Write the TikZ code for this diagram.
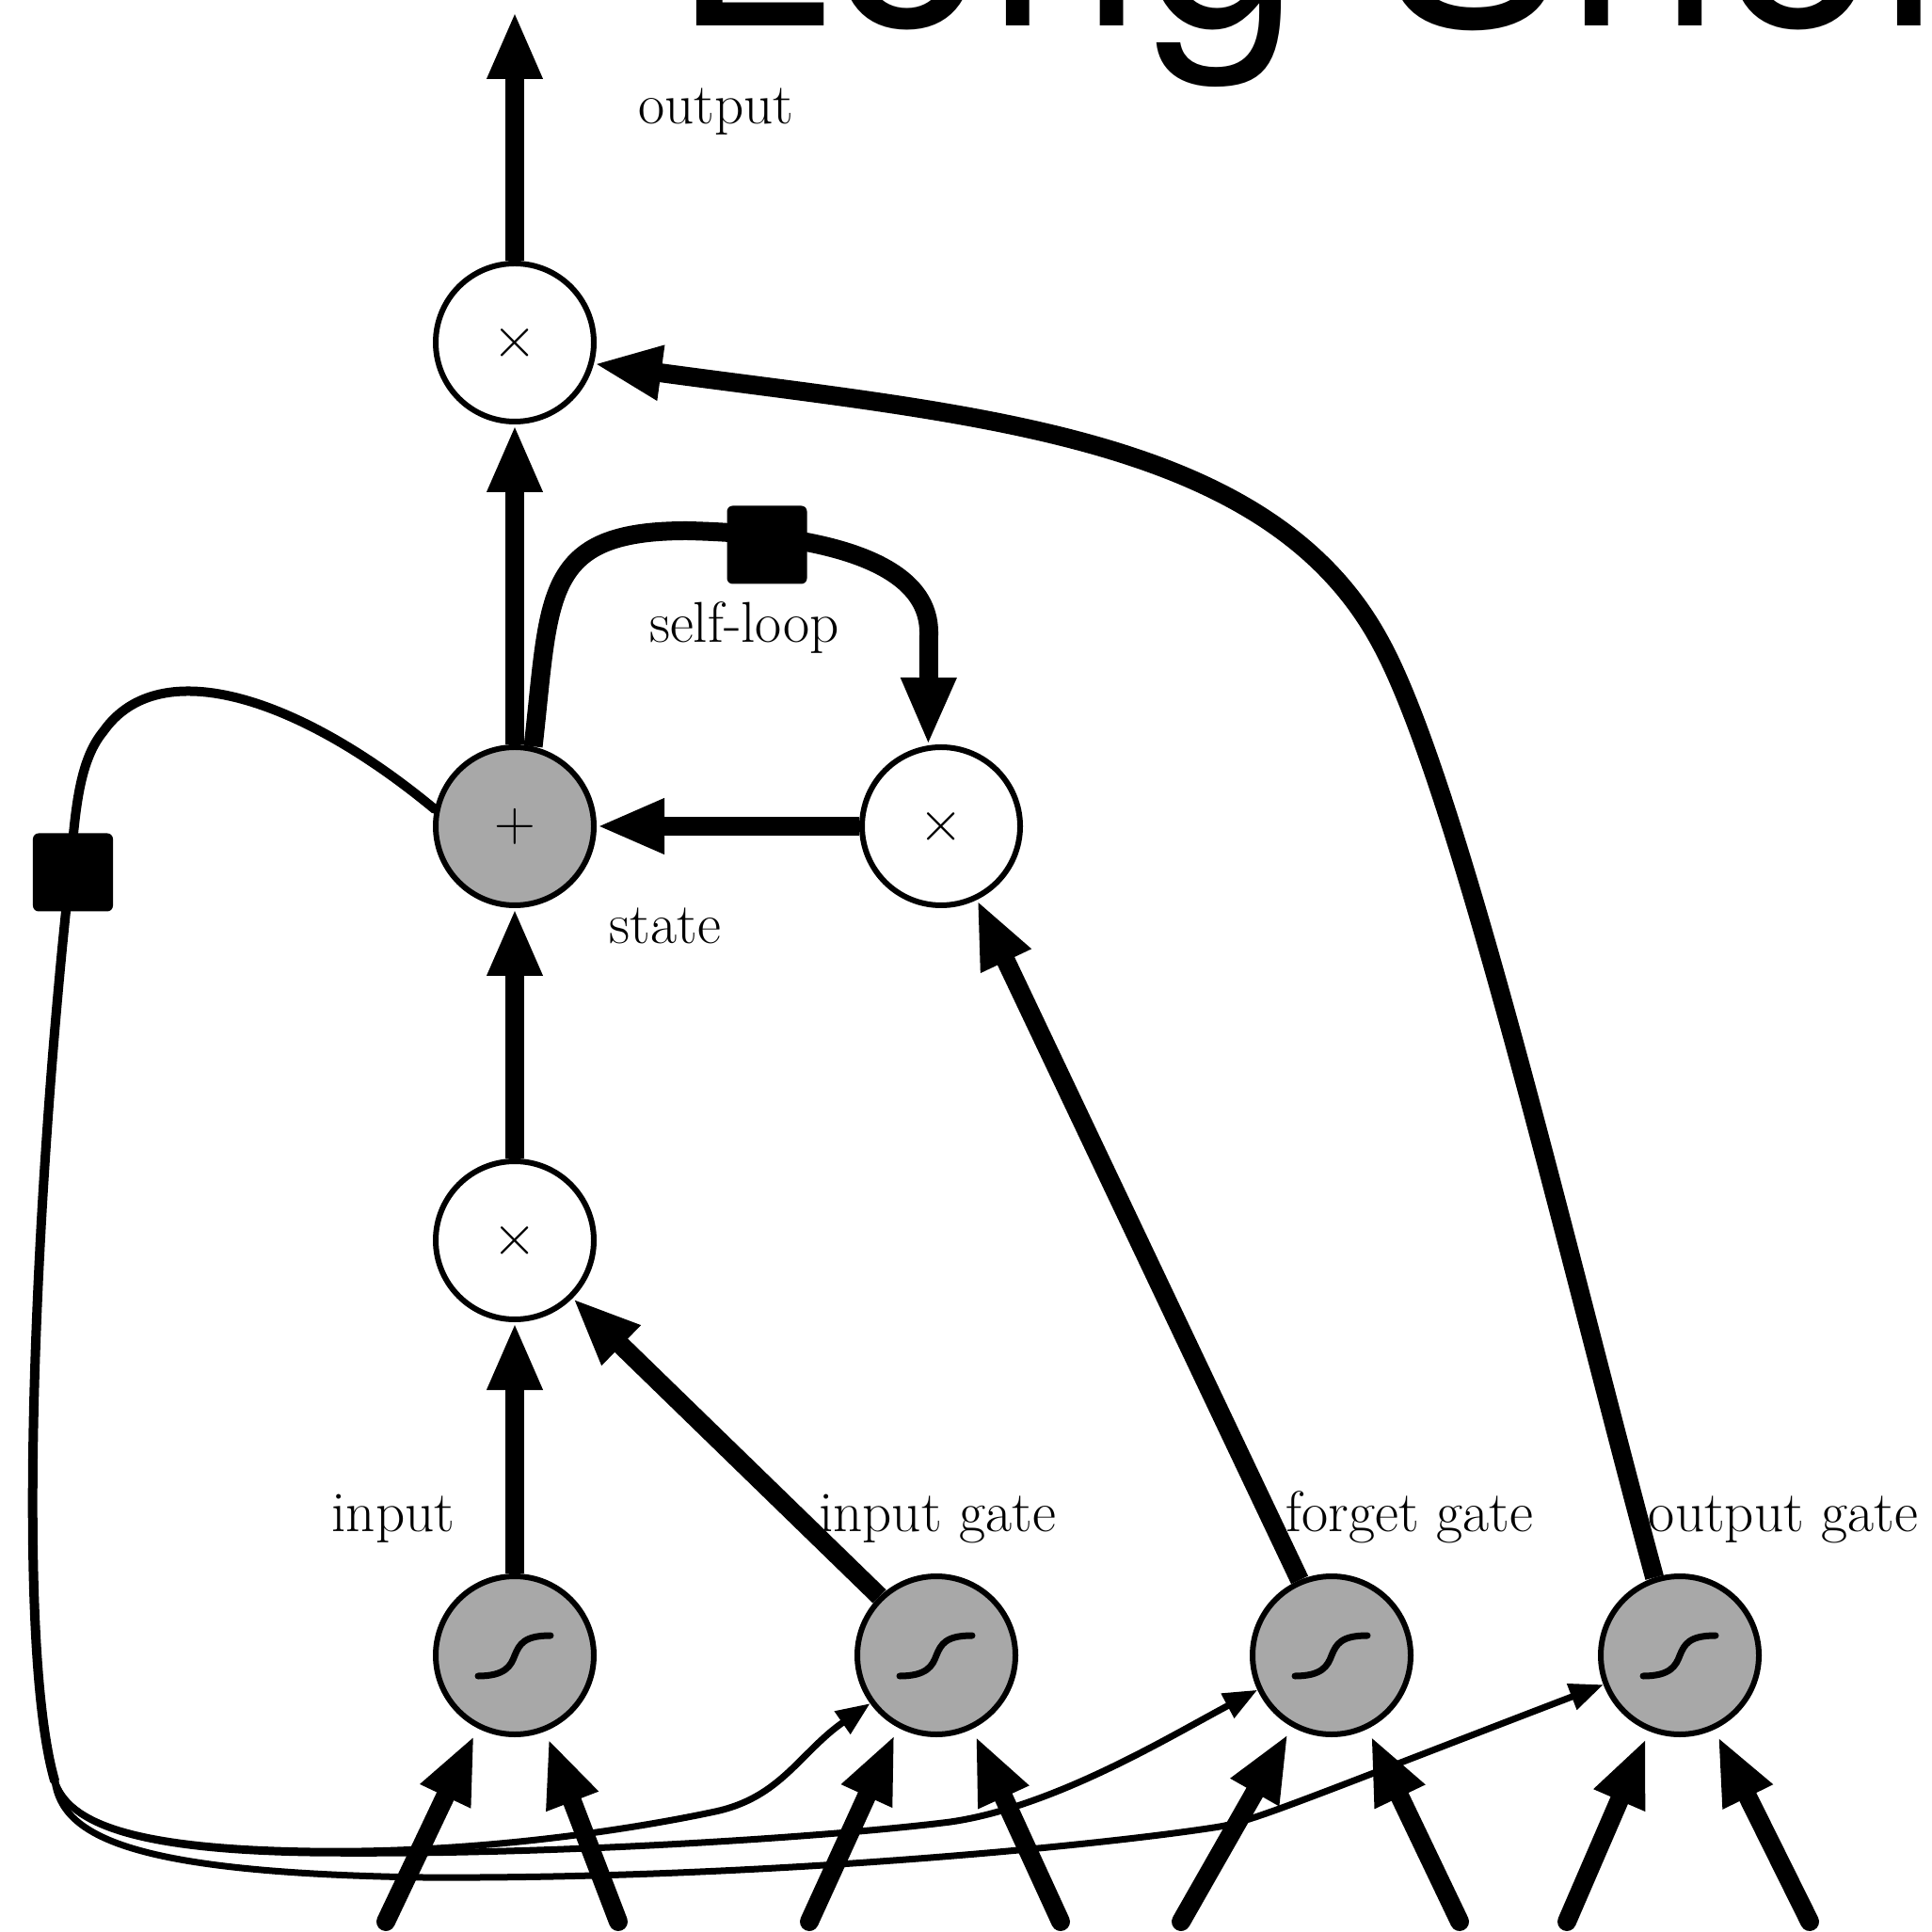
\documentclass[tikz,border=0pt]{standalone}
\usepackage{fontspec}
\usepackage{tikz}
\usetikzlibrary{arrows.meta}
\newfontfamily\titlefont{TeX Gyre Heros}
\definecolor{unitgray}{RGB}{168,168,168}
\tikzset{
  unit/.style={circle,draw,line width=0.6mm,fill=white,minimum size=16.8mm,inner sep=0pt,
    font=\fontsize{17.4}{20}\selectfont},
  sumunit/.style={unit,fill=unitgray},
  gateunit/.style={unit,fill=unitgray,path picture={
      \draw[line width=0.7mm,line cap=round,shift={(path picture bounding box.center)}]
        (-0.39,-0.22) .. controls (-0.1,-0.22) and (-0.04,-0.11) .. (0,0)
        .. controls (0.05,0.12) and (0.1,0.21) .. (0.38,0.21);}},
  delay/.style={fill=black,rounded corners=0.6mm,minimum width=8.5mm,minimum height=8.3mm,inner sep=0pt},
  lbl/.style={font=\fontsize{17.4}{20}\selectfont,anchor=base,inner sep=0pt},
  heavy/.style={line width=2mm,-{Triangle[length=7.2mm,width=5.4mm]}},
  light/.style={line width=0.7mm,line cap=round,-{Triangle[length=3.6mm,width=2.8mm]}},
}

\begin{document}
\begin{tikzpicture}
  \useasboundingbox (0,0) rectangle (20.53,20.52);
  \clip (0,0) rectangle (20.53,20.52);
  \node[anchor=base west,inner sep=0pt,font=\titlefont\fontsize{85}{90}\selectfont]
    (title) at (7.16,20.24) {Long Short-Term Memory};

  % units of the cell
  \node[unit] (outx) at (5.47,16.88) {$\times$};
  \node[sumunit] (state) at (5.47,11.74) {$+$};
  \node[unit] (loopx) at (10.00,11.74) {$\times$};
  \node[unit] (inx) at (5.47,7.34) {$\times$};
  \node[gateunit] (gin) at (5.47,2.93) {};
  \node[gateunit] (gig) at (9.95,2.93) {};
  \node[gateunit] (gfg) at (14.15,2.93) {};
  \node[gateunit] (gog) at (17.85,2.93) {};

  \node[lbl] (loutput) at (7.61,19.20) {output};
  \node[lbl] (lloop) at (7.91,13.69) {self-loop};
  \node[lbl] (lstate) at (7.07,10.49) {state};
  \node[lbl] (linput) at (4.18,4.25) {input};
  \node[lbl] (lig) at (9.96,4.25) {input gate};
  \node[lbl] (lfg) at (14.98,4.25) {forget gate};
  \node[lbl] (log) at (18.95,4.25) {output gate};

  % main flow
  \coordinate (top) at (5.47,20.40);
  \draw[heavy] (outx) -- (top);
  \draw[heavy] (state) -- (outx);
  \draw[heavy] (inx) -- (state);
  \draw[heavy] (gin) -- (inx);
  \draw[heavy] (loopx) -- (state);
  \draw[heavy] (gig.134) -- (inx.-45);
  \draw[heavy] (gfg.113) -- (loopx.-64);
  \draw[heavy] (gog.108) .. controls (16.7,7.0) and (15.5,12.2) .. (14.66,13.71)
    .. controls (13.46,15.91) and (10.31,16.11) .. (outx.-15);
  \draw[heavy] (state.77) .. controls (5.85,14.2) and (5.75,14.88) .. (7.3,14.88)
    .. controls (8.6,14.85) and (9.87,14.6) .. (9.87,13.8) -- (loopx.99);

  % state fed back to the gates
  \coordinate (lb) at (0.58,1.6);
  \draw[line width=1mm,line cap=round] (state.168) .. controls (3.2,13.1) and (1.7,13.6) .. (1.1,12.75)
    .. controls (0.85,12.45) and (0.8,11.95) .. (0.75,11.3)
    .. controls (0.38,8.0) and (0.15,3.1) .. (lb);
  \draw[light] (lb) .. controls (0.72,1.15) and (1.4,0.88) .. (3.3,0.85)
    .. controls (5.2,0.82) and (6.9,1.12) .. (7.6,1.27)
    .. controls (8.3,1.42) and (8.5,1.9) .. (gig.216);
  \draw[light] (lb) .. controls (0.72,1.15) and (1.4,0.86) .. (3.3,0.83)
    .. controls (6,0.8) and (9,1.02) .. (10.1,1.16)
    .. controls (11.2,1.32) and (12.4,2.05) .. (gfg.205);
  \draw[light] (lb) .. controls (0.66,1.0) and (1.4,0.62) .. (4.5,0.57)
    .. controls (8,0.55) and (11.6,0.9) .. (12.9,1.1)
    .. controls (13.3,1.16) and (13.6,1.3) .. (gog.201);

  % delays
  \node[delay] (dloop) at (8.15,14.73) {};
  \node[delay] (dback) at (0.775,11.25) {};

  % inputs from below
  \foreach \g/\a/\x [count=\i] in {gin/243/4.10, gin/292/6.57, gig/242/8.60, gig/296/11.27,
      gfg/241/12.55, gfg/296/15.51, gog/248/16.65, gog/295/19.23} {
    \coordinate (x\i) at (\x,0.1);
    \draw[heavy,line cap=round,shorten >=0.8mm] (x\i) -- (\g.\a);
  }
\end{tikzpicture}
\end{document}
